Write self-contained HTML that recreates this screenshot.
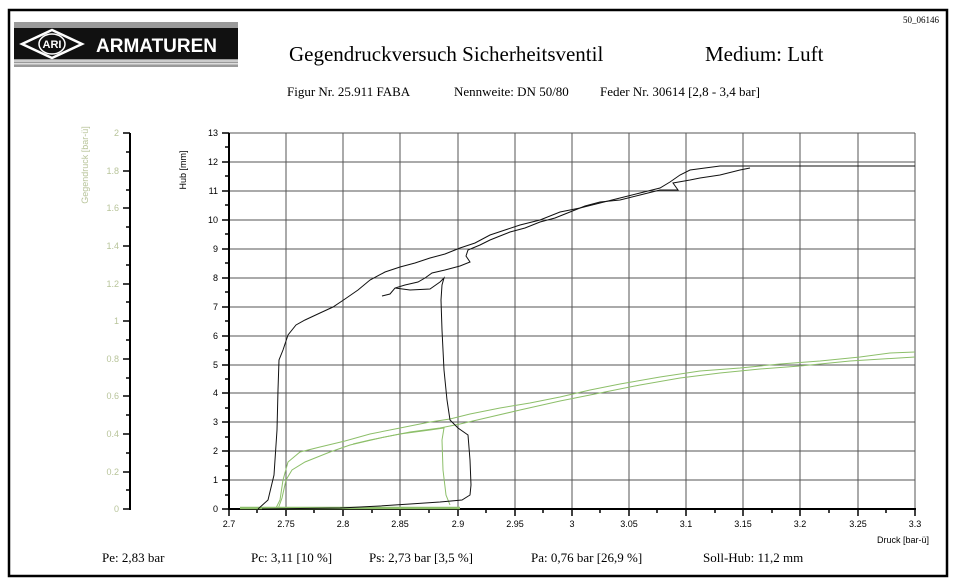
<!DOCTYPE html>
<html><head><meta charset="utf-8"><style>
body{margin:0;background:#fff;}
svg{display:block;}
.s{font-family:"Liberation Serif",serif;}
.a{font-family:"Liberation Sans",sans-serif;font-size:9px;}
</style></head><body>
<svg width="957" height="586" viewBox="0 0 957 586" xmlns="http://www.w3.org/2000/svg">
<rect x="9" y="10" width="938" height="566" fill="none" stroke="#000" stroke-width="2.5"/>
<!-- logo -->
<rect x="14" y="22" width="224" height="45" fill="#9a9a9a"/>
<rect x="14" y="28" width="224" height="31" fill="#111"/>
<rect x="14" y="60" width="224" height="2" fill="#ccc"/>
<rect x="14" y="63" width="224" height="1.5" fill="#ddd"/>
<polygon points="22,44 52,30 82,44 52,58" fill="none" stroke="#fff" stroke-width="2.5"/>
<ellipse cx="52" cy="44" rx="13" ry="10" fill="none" stroke="#fff" stroke-width="1.5"/>
<text x="52" y="48" font-family="Liberation Sans" font-weight="bold" font-size="11" fill="#fff" text-anchor="middle">ARI</text>
<text x="96" y="52" font-family="Liberation Sans" font-weight="bold" font-size="19" fill="#fff">ARMATUREN</text>
<text x="939" y="23" class="s" font-size="9" text-anchor="end">50_06146</text>
<text x="289" y="61" class="s" font-size="21">Gegendruckversuch Sicherheitsventil</text>
<text x="705" y="61" class="s" font-size="21">Medium: Luft</text>
<text x="287" y="96" class="s" font-size="13">Figur Nr. 25.911 FABA</text>
<text x="454" y="96" class="s" font-size="13">Nennweite: DN 50/80</text>
<text x="600" y="96" class="s" font-size="13">Feder Nr. 30614 [2,8 - 3,4 bar]</text>
<!-- grid -->
<g stroke="#555" stroke-width="1">
<line x1="286" y1="133" x2="286" y2="509"/><line x1="343" y1="133" x2="343" y2="509"/><line x1="400" y1="133" x2="400" y2="509"/><line x1="458" y1="133" x2="458" y2="509"/><line x1="515" y1="133" x2="515" y2="509"/><line x1="572" y1="133" x2="572" y2="509"/><line x1="629" y1="133" x2="629" y2="509"/><line x1="686" y1="133" x2="686" y2="509"/><line x1="743" y1="133" x2="743" y2="509"/><line x1="800" y1="133" x2="800" y2="509"/><line x1="858" y1="133" x2="858" y2="509"/><line x1="915" y1="133" x2="915" y2="509"/>
<line x1="229" y1="162" x2="915" y2="162"/><line x1="229" y1="191" x2="915" y2="191"/><line x1="229" y1="220" x2="915" y2="220"/><line x1="229" y1="249" x2="915" y2="249"/><line x1="229" y1="278" x2="915" y2="278"/><line x1="229" y1="307" x2="915" y2="307"/><line x1="229" y1="336" x2="915" y2="336"/><line x1="229" y1="365" x2="915" y2="365"/><line x1="229" y1="393" x2="915" y2="393"/><line x1="229" y1="422" x2="915" y2="422"/><line x1="229" y1="451" x2="915" y2="451"/><line x1="229" y1="480" x2="915" y2="480"/>
<line x1="229" y1="133" x2="915" y2="133"/>
</g>
<!-- axes -->
<line x1="229" y1="133" x2="229" y2="510" stroke="#000" stroke-width="2"/>
<line x1="228" y1="509" x2="916" y2="509" stroke="#000" stroke-width="2"/>
<line x1="130" y1="133" x2="130" y2="510" stroke="#000" stroke-width="2"/>
<g stroke="#000" stroke-width="1.5" id="t">
<line x1="222" y1="133" x2="229" y2="133"/><line x1="222" y1="162" x2="229" y2="162"/><line x1="222" y1="191" x2="229" y2="191"/><line x1="222" y1="220" x2="229" y2="220"/><line x1="222" y1="249" x2="229" y2="249"/><line x1="222" y1="278" x2="229" y2="278"/><line x1="222" y1="307" x2="229" y2="307"/><line x1="222" y1="336" x2="229" y2="336"/><line x1="222" y1="365" x2="229" y2="365"/><line x1="222" y1="393" x2="229" y2="393"/><line x1="222" y1="422" x2="229" y2="422"/><line x1="222" y1="451" x2="229" y2="451"/><line x1="222" y1="480" x2="229" y2="480"/><line x1="222" y1="509" x2="229" y2="509"/>
<line x1="225" y1="147" x2="229" y2="147"/><line x1="225" y1="176" x2="229" y2="176"/><line x1="225" y1="205" x2="229" y2="205"/><line x1="225" y1="234" x2="229" y2="234"/><line x1="225" y1="263" x2="229" y2="263"/><line x1="225" y1="292" x2="229" y2="292"/><line x1="225" y1="321" x2="229" y2="321"/><line x1="225" y1="350" x2="229" y2="350"/><line x1="225" y1="379" x2="229" y2="379"/><line x1="225" y1="408" x2="229" y2="408"/><line x1="225" y1="437" x2="229" y2="437"/><line x1="225" y1="466" x2="229" y2="466"/><line x1="225" y1="495" x2="229" y2="495"/>
<line x1="123" y1="133" x2="130" y2="133"/><line x1="123" y1="171" x2="130" y2="171"/><line x1="123" y1="208" x2="130" y2="208"/><line x1="123" y1="246" x2="130" y2="246"/><line x1="123" y1="284" x2="130" y2="284"/><line x1="123" y1="321" x2="130" y2="321"/><line x1="123" y1="359" x2="130" y2="359"/><line x1="123" y1="396" x2="130" y2="396"/><line x1="123" y1="434" x2="130" y2="434"/><line x1="123" y1="472" x2="130" y2="472"/><line x1="123" y1="509" x2="130" y2="509"/>
<line x1="126" y1="152" x2="130" y2="152"/><line x1="126" y1="190" x2="130" y2="190"/><line x1="126" y1="227" x2="130" y2="227"/><line x1="126" y1="265" x2="130" y2="265"/><line x1="126" y1="302" x2="130" y2="302"/><line x1="126" y1="340" x2="130" y2="340"/><line x1="126" y1="378" x2="130" y2="378"/><line x1="126" y1="415" x2="130" y2="415"/><line x1="126" y1="453" x2="130" y2="453"/><line x1="126" y1="490" x2="130" y2="490"/>
<line x1="229" y1="509" x2="229" y2="516"/><line x1="286" y1="509" x2="286" y2="516"/><line x1="343" y1="509" x2="343" y2="516"/><line x1="400" y1="509" x2="400" y2="516"/><line x1="458" y1="509" x2="458" y2="516"/><line x1="515" y1="509" x2="515" y2="516"/><line x1="572" y1="509" x2="572" y2="516"/><line x1="629" y1="509" x2="629" y2="516"/><line x1="686" y1="509" x2="686" y2="516"/><line x1="743" y1="509" x2="743" y2="516"/><line x1="800" y1="509" x2="800" y2="516"/><line x1="858" y1="509" x2="858" y2="516"/><line x1="915" y1="509" x2="915" y2="516"/>
<line x1="257" y1="509" x2="257" y2="513"/><line x1="314" y1="509" x2="314" y2="513"/><line x1="372" y1="509" x2="372" y2="513"/><line x1="429" y1="509" x2="429" y2="513"/><line x1="486" y1="509" x2="486" y2="513"/><line x1="543" y1="509" x2="543" y2="513"/><line x1="600" y1="509" x2="600" y2="513"/><line x1="657" y1="509" x2="657" y2="513"/><line x1="715" y1="509" x2="715" y2="513"/><line x1="772" y1="509" x2="772" y2="513"/><line x1="829" y1="509" x2="829" y2="513"/><line x1="886" y1="509" x2="886" y2="513"/>
</g>
<g class="a" text-anchor="end">
<text x="218" y="136">13</text><text x="218" y="165">12</text><text x="218" y="194">11</text><text x="218" y="223">10</text><text x="218" y="252">9</text><text x="218" y="281">8</text><text x="218" y="310">7</text><text x="218" y="339">6</text><text x="218" y="368">5</text><text x="218" y="396">4</text><text x="218" y="425">3</text><text x="218" y="454">2</text><text x="218" y="483">1</text><text x="218" y="512">0</text>
</g>
<g class="a" text-anchor="end" fill="#b8c49a">
<text x="119" y="136">2</text><text x="119" y="174">1.8</text><text x="119" y="211">1.6</text><text x="119" y="249">1.4</text><text x="119" y="287">1.2</text><text x="119" y="324">1</text><text x="119" y="362">0.8</text><text x="119" y="399">0.6</text><text x="119" y="437">0.4</text><text x="119" y="475">0.2</text><text x="119" y="512">0</text>
</g>
<g class="a" text-anchor="middle">
<text x="229" y="527">2.7</text><text x="286" y="527">2.75</text><text x="343" y="527">2.8</text><text x="400" y="527">2.85</text><text x="458" y="527">2.9</text><text x="515" y="527">2.95</text><text x="572" y="527">3</text><text x="629" y="527">3.05</text><text x="686" y="527">3.1</text><text x="743" y="527">3.15</text><text x="800" y="527">3.2</text><text x="858" y="527">3.25</text><text x="915" y="527">3.3</text>
</g>
<text x="929" y="543" class="a" text-anchor="end">Druck [bar-ü]</text>
<text class="a" transform="translate(186,170) rotate(-90)" text-anchor="middle">Hub [mm]</text>
<text class="a" fill="#b8c49a" transform="translate(88,165) rotate(-90)" text-anchor="middle">Gegendruck [bar-ü]</text>
<!-- green -->
<g fill="none" stroke="#8dbf6a" stroke-width="1">
<polyline points="262,509 276,508 280,500 283,480 288,462 300,452 320,447 345,441 370,434 400,428 430,422 450,419 470,414 500,408 530,403 560,397 590,390 620,384 660,377 700,371 740,368 780,364 820,361 860,357 890,353 915,352"/>
<polyline points="278,509 282,498 286,480 292,470 305,462 330,452 350,445 380,438 410,432 440,428 460,424 490,417 520,410 560,401 600,393 640,385 680,378 720,373 760,369 800,366 850,361 915,357"/>
<polyline points="353,444 370,440 400,434 430,430 444,428 442,440 443,470 446,495 450,505"/>
</g>
<polyline points="240,508 460,508" stroke="#8dbf6a" stroke-width="2.5" fill="none"/>
<!-- black -->
<g fill="none" stroke="#111" stroke-width="1">
<polyline points="258,509 268,500 274,475 277,430 278,390 279,360 283,350 288,335 296,325 305,320 320,313 333,307 345,299 358,290 370,280 385,272 400,267 415,263 430,258 445,254 460,248 475,243 490,235 505,230 520,225 540,220 560,212 580,208 600,203 620,198 640,193 660,188 670,182 680,175 690,170 720,166 760,166 915,166"/>
<polyline points="750,168 740,170 720,175 700,178 690,180 673,183 678,190 660,190 640,195 620,200 600,202 585,206 575,210 565,214 555,218 540,222 525,228 510,232 500,236 490,240 480,245 468,250 466,256 470,262 460,266 445,270 432,273 425,278 418,282 405,285 395,288 390,294 382,296"/>
<polyline points="395,288 410,290 430,289 440,282 444,278 442,285 441,300 442,330 444,370 447,400 450,420 458,428 468,435 470,460 471,485 470,495 462,500 440,502 410,504 380,506 340,508 300,508.5 262,509"/>
</g>
<!-- footer -->
<g class="s" font-size="13">
<text x="102" y="562">Pe: 2,83 bar</text>
<text x="251" y="562">Pc: 3,11 [10 %]</text>
<text x="369" y="562">Ps: 2,73 bar [3,5 %]</text>
<text x="531" y="562">Pa: 0,76 bar [26,9 %]</text>
<text x="703" y="562">Soll-Hub: 11,2 mm</text>
</g>
</svg>
</body></html>
